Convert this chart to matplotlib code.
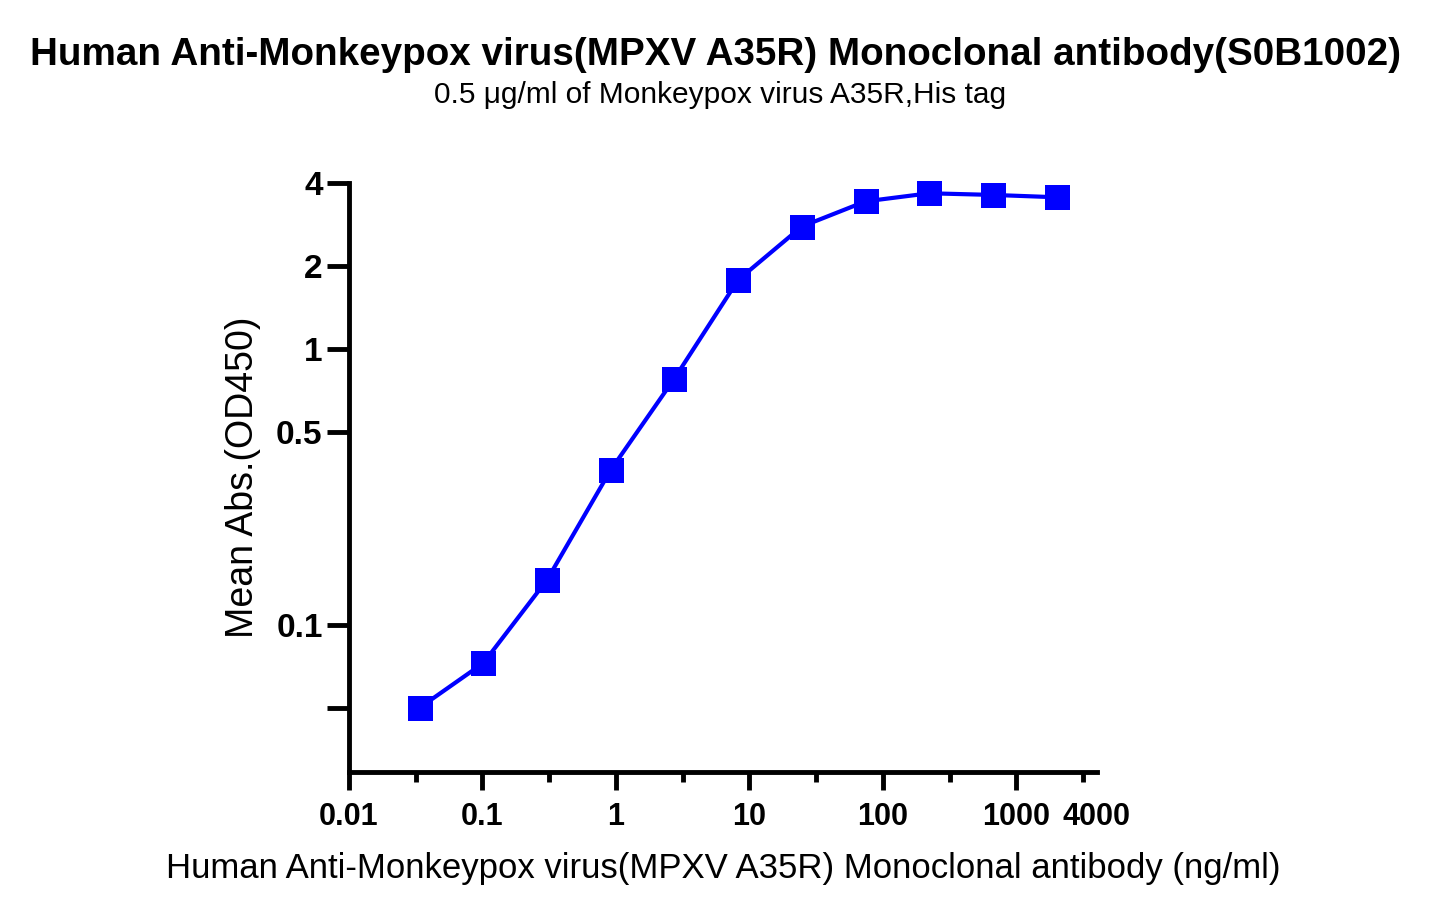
import matplotlib
matplotlib.use("Agg")
import matplotlib.pyplot as plt
from matplotlib.ticker import FixedLocator, NullLocator

plt.rcParams['font.family'] = ['Liberation Sans', 'DejaVu Sans']

# antibody concentration (ng/ml), 3-fold dilution
conc = [0.0339, 0.1016, 0.305, 0.914, 2.74, 8.23, 24.69, 74.07, 222.2, 666.7, 2000]
od450 = [0.050, 0.0726, 0.1455, 0.364, 0.781, 1.78, 2.78, 3.43, 3.67, 3.62, 3.55]

xticks = [0.01, 0.1, 1, 10, 100, 1000, 4000]
xticklabels = ['0.01', '0.1', '1', '10', '100', '1000', '4000']
xminor = [0.0316, 0.316, 3.16, 31.6, 316, 3162]
yticks = [0.05, 0.1, 0.5, 1, 2, 4]
yticklabels = ['', '0.1', '0.5', '1', '2', '4']

title = 'Human Anti-Monkeypox virus(MPXV A35R) Monoclonal antibody(S0B1002)'
subtitle = '0.5 \u03bcg/ml of Monkeypox virus A35R,His tag'
xlabel = 'Human Anti-Monkeypox virus(MPXV A35R) Monoclonal antibody (ng/ml)'
ylabel = 'Mean Abs.(OD450)'

fig = plt.figure(figsize=(14.45, 9.19), dpi=100)
ax = fig.add_axes([0.2415, 0.1603, 0.759 - 0.2415, 0.8009 - 0.1603])

ax.plot(conc, od450, color='#0000ff', lw=3, marker='s', ms=18,
        markeredgewidth=0, clip_on=False, zorder=3)

ax.set_xscale('log')
ax.set_yscale('log')
ax.set_xlim(0.01, 4000)
ax.set_ylim(0.0293, 4)

ax.xaxis.set_major_locator(FixedLocator(xticks))
ax.set_xticklabels(xticklabels)
ax.xaxis.set_minor_locator(FixedLocator(xminor))
ax.yaxis.set_major_locator(FixedLocator(yticks))
ax.set_yticklabels(yticklabels)
ax.yaxis.set_minor_locator(NullLocator())
ax.xaxis.get_major_ticks()[-1].tick1line.set_visible(False)

for s in ['top', 'right']:
    ax.spines[s].set_visible(False)
for s in ['left', 'bottom']:
    ax.spines[s].set_linewidth(3.5)

ax.tick_params(axis='x', which='major', length=13, width=3.5, labelsize=22, pad=9)
ax.tick_params(axis='x', which='minor', length=7, width=3.5)
ax.tick_params(axis='y', which='major', length=16, width=3.5, labelsize=24, pad=3)
for lab in ax.get_xticklabels() + ax.get_yticklabels():
    lab.set_fontweight('bold')

ax.set_xlabel(xlabel, fontsize=25, labelpad=14)
ax.set_ylabel(ylabel, fontsize=27, labelpad=11)

fig.text(0.4955, 0.940, title, ha='center', va='center', fontsize=27.8, fontweight='bold')
fig.text(0.498, 0.897, subtitle, ha='center', va='center', fontsize=21.5)

fig.savefig('out.png', dpi=100)
